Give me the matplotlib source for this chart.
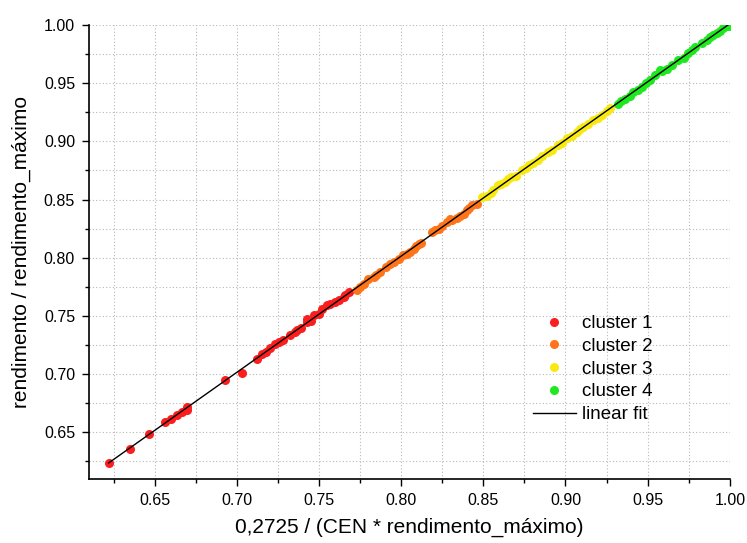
import numpy as np
import matplotlib
matplotlib.use("Agg")
import matplotlib.pyplot as plt
from matplotlib.ticker import MultipleLocator

plt.rcParams["font.family"] = ["Liberation Sans", "DejaVu Sans"]

# (x, y) pairs per cluster
c1_x = [0.622, 0.635, 0.6465, 0.6566, 0.6597, 0.6637, 0.6668, 0.670, 0.670,
        0.693, 0.7032, 0.7124, 0.7154, 0.7180, 0.7204, 0.7230, 0.7255, 0.7280,
        0.7326, 0.7356, 0.7367, 0.7390, 0.7428, 0.7428, 0.7450, 0.7468, 0.7500,
        0.7520, 0.755, 0.7570, 0.760, 0.7620, 0.765, 0.7660, 0.768]
c1_y = [0.624, 0.636, 0.649, 0.6588, 0.6617, 0.6645, 0.6674, 0.6717, 0.669,
        0.6946, 0.7009, 0.7133, 0.7176, 0.7190, 0.7228, 0.7260, 0.7276, 0.7290,
        0.7333, 0.7364, 0.7376, 0.7400, 0.7448, 0.7477, 0.7460, 0.7505, 0.7520,
        0.7560, 0.7591, 0.7600, 0.762, 0.7640, 0.7663, 0.7680, 0.7706]

c2_x = [0.7731, 0.7752, 0.7772, 0.7800, 0.7832, 0.7850, 0.7873, 0.7905, 0.7934,
        0.7955, 0.7984, 0.8010, 0.8035, 0.8055, 0.8076, 0.8090, 0.8106, 0.8120,
        0.8187, 0.8205, 0.8228, 0.8250, 0.8278, 0.8300, 0.8309, 0.8340, 0.8360,
        0.838, 0.8400, 0.8410, 0.843, 0.846]
c2_y = [0.772, 0.7745, 0.7778, 0.7815, 0.7835, 0.7850, 0.7878, 0.7925, 0.795,
        0.7960, 0.7993, 0.8020, 0.8035, 0.8050, 0.8079, 0.8105, 0.8121, 0.8130,
        0.8222, 0.8240, 0.8251, 0.8270, 0.8308, 0.8330, 0.8322, 0.8345, 0.8360,
        0.838, 0.8410, 0.8425, 0.845, 0.8465]

c3_x = [0.849, 0.852, 0.8545, 0.856, 0.859, 0.8610, 0.8633, 0.8650, 0.867,
        0.8700, 0.8735, 0.8760, 0.878, 0.8800, 0.8835, 0.8860, 0.8896, 0.8920,
        0.8957, 0.8980, 0.9008, 0.9040, 0.9069, 0.9090, 0.9109, 0.9140, 0.917,
        0.9200, 0.9221, 0.9250, 0.9271]
c3_y = [0.852, 0.853, 0.8560, 0.858, 0.8623, 0.8635, 0.865, 0.8675, 0.8695,
        0.8705, 0.875, 0.8770, 0.8795, 0.8810, 0.8838, 0.8875, 0.891, 0.8930,
        0.8967, 0.8990, 0.9025, 0.9050, 0.9081, 0.9110, 0.9124, 0.9150, 0.9182,
        0.9200, 0.9225, 0.9260, 0.9283]

c4_x = [0.9322, 0.9340, 0.9362, 0.9390, 0.9413, 0.9440, 0.9463, 0.9490, 0.9514,
        0.9545, 0.9575, 0.9590, 0.9615, 0.9650, 0.9686, 0.9720, 0.9747, 0.9768,
        0.9790, 0.9829, 0.9860, 0.988, 0.9900, 0.992, 0.9940, 0.996, 0.998, 0.9995]
c4_y = [0.9325, 0.9350, 0.9368, 0.9390, 0.9425, 0.9440, 0.9468, 0.9500, 0.9526,
        0.9570, 0.9612, 0.9605, 0.9626, 0.9660, 0.9698, 0.9720, 0.9755, 0.9784,
        0.9810, 0.9841, 0.9870, 0.9898, 0.9910, 0.9927, 0.9950, 0.997, 0.999, 0.9995]

clusters = ["cluster 1", "cluster 2", "cluster 3", "cluster 4"]
colors = ["#fa1e1e", "#ff7418", "#f8ea10", "#1ee81e"]

fig = plt.figure(figsize=(7.47, 5.43), dpi=100)
ax = fig.add_axes([0.119, 0.118, 0.858, 0.836])

for xs, ys, name, col in zip([c1_x, c2_x, c3_x, c4_x], [c1_y, c2_y, c3_y, c4_y],
                             clusters, colors):
    ax.plot(xs, ys, "o", ms=6.5, mec="none", color=col, label=name, zorder=3)

all_x = np.concatenate([c1_x, c2_x, c3_x, c4_x])
all_y = np.concatenate([c1_y, c2_y, c3_y, c4_y])
slope, icpt = np.polyfit(all_x, all_y, 1)
fx = np.array([all_x.min(), all_x.max()])
ax.plot(fx, slope * fx + icpt, color="black", lw=1.0, label="linear fit", zorder=4)

ax.set_xlim(0.61, 1.0)
ax.set_ylim(0.61, 1.0)
for axis in (ax.xaxis, ax.yaxis):
    axis.set_major_locator(MultipleLocator(0.05))
    axis.set_minor_locator(MultipleLocator(0.025))
ax.xaxis.set_major_formatter(lambda v, p: f"{v:.2f}")
ax.yaxis.set_major_formatter(lambda v, p: f"{v:.2f}")

ax.grid(True, which="both", color="#b8b8b8", linestyle=(0, (1, 2)), lw=0.8)
ax.set_axisbelow(True)
ax.spines["top"].set_visible(False)
ax.spines["right"].set_visible(False)
ax.spines["left"].set_linewidth(1.2)
ax.spines["bottom"].set_linewidth(1.2)
ax.tick_params(which="major", direction="out", length=5, width=1.0,
               labelsize=11.5, pad=5)
ax.tick_params(which="minor", direction="out", length=3, width=1.0)

ax.set_xlabel("0,2725 / (CEN * rendimento_máximo)", fontsize=15, labelpad=7)
ax.set_ylabel("rendimento / rendimento_máximo", fontsize=15, labelpad=9)

ax.legend(loc="upper left", bbox_to_anchor=(0.673, 0.39), frameon=False,
          fontsize=13.5, handlelength=2.25, handletextpad=0.37, labelspacing=0.3,
          borderpad=0.2)

fig.savefig("out.png", dpi=100)
